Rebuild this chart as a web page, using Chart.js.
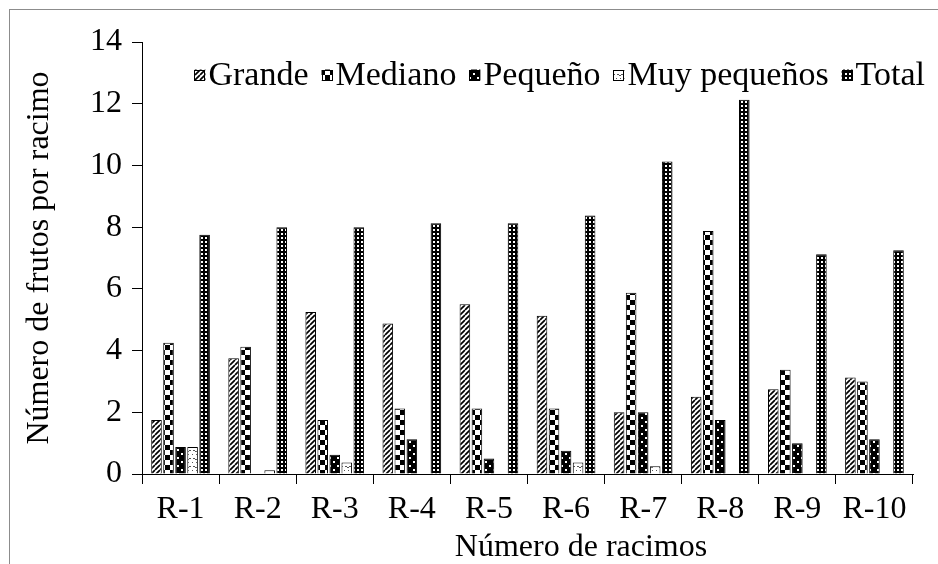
<!DOCTYPE html>
<html><head><meta charset="utf-8">
<script src="https://cdn.jsdelivr.net/npm/chart.js@4.4.1/dist/chart.umd.min.js"></script>
<style>
html,body{margin:0;padding:0;background:#fff;overflow:hidden;width:938px;height:564px}
#frame{position:absolute;left:9px;top:9px;width:1000px;height:1000px;border:1px solid #8c8c8c;box-sizing:border-box}
#c{position:absolute;left:0;top:0}
</style></head><body>
<div id="frame"></div>
<canvas id="c" width="938" height="564"></canvas>
<script>
const categories = ['R-1','R-2','R-3','R-4','R-5','R-6','R-7','R-8','R-9','R-10'];
const seriesNames = ['Grande','Mediano','Pequeño','Muy pequeños','Total'];
const grande      = [1.75, 3.75, 5.25, 4.875, 5.5, 5.125, 2.0, 2.5, 2.75, 3.125];
const mediano     = [4.25, 4.125, 1.75, 2.125, 2.125, 2.125, 5.875, 7.875, 3.375, 3.0];
const pequeno     = [0.875, 0, 0.625, 1.125, 0.5, 0.75, 2.0, 1.75, 1.0, 1.125];
const muyPequenos = [0.875, 0.125, 0.375, 0, 0, 0.375, 0.25, 0, 0, 0];
const total       = [7.75, 8.0, 8.0, 8.125, 8.125, 8.375, 10.125, 12.125, 7.125, 7.25];
const yMin = 0, yMax = 14, yStep = 2;
const xTitle = 'Número de racimos';
const yTitle = 'Número de frutos por racimo';

function makePattern(w, h, draw) {
  const c = document.createElement('canvas'); c.width = w; c.height = h;
  const x = c.getContext('2d'); draw(x, w, h);
  return x.createPattern(c, 'repeat');
}
const pGrande = makePattern(5, 5, (x, w, h) => {
  x.fillStyle = '#fff'; x.fillRect(0, 0, w, h);
  x.strokeStyle = '#000'; x.lineWidth = 1.7; x.beginPath();
  for (let k = -1; k <= 1; k++) { x.moveTo(k * w, h); x.lineTo(k * w + w, 0); }
  x.stroke();
});
const pMediano = makePattern(10, 10, (x, w, h) => {
  x.fillStyle = '#fff'; x.fillRect(0, 0, w, h);
  x.fillStyle = '#000'; x.fillRect(0, 0, 5, 5); x.fillRect(5, 5, 5, 5);
});
const pPequeno = makePattern(8, 8, (x, w, h) => {
  x.fillStyle = '#000'; x.fillRect(0, 0, w, h);
  x.fillStyle = '#fff'; x.fillRect(1, 1, 2, 2); x.fillRect(5, 5, 2, 2);
});
const pMuy = makePattern(8, 8, (x, w, h) => {
  x.fillStyle = '#fff'; x.fillRect(0, 0, w, h);
  x.fillStyle = '#555'; x.fillRect(1, 2, 2, 1); x.fillRect(3, 3, 2, 1); x.fillRect(5, 2, 2, 1);
  x.fillRect(0, 6, 1, 1); x.fillRect(4, 6, 1, 1);
});
const pTotal = makePattern(4, 4, (x, w, h) => {
  x.fillStyle = '#000'; x.fillRect(0, 0, w, h);
  x.fillStyle = '#fff'; x.fillRect(1, 1, 2, 2);
});
const fills = [pGrande, pMediano, pPequeno, pMuy, pTotal];
const seriesData = [grande, mediano, pequeno, muyPequenos, total];

const FONT = 'Liberation Serif';

const overlay = {
  id: 'overlay',
  afterDraw(chart) {
    const ctx = chart.ctx; ctx.save();
    ctx.font = '34px "' + FONT + '"'; ctx.textBaseline = 'middle';
    const ds = chart.data.datasets;
    const box = 11, gapText = 3, gapItem = 13, right = 925, yc = 75;
    const widths = ds.map(d => ctx.measureText(d.label).width);
    const totalW = widths.reduce((a, b) => a + b, 0) + ds.length * (box + gapText) + (ds.length - 1) * gapItem;
    let x = right - totalW;
    ds.forEach((d, i) => {
      ctx.fillStyle = d.backgroundColor; ctx.fillRect(x, yc - box / 2, box, box);
      ctx.strokeStyle = '#000'; ctx.lineWidth = 1;
      ctx.strokeRect(Math.round(x) + 0.5, Math.round(yc - box / 2) + 0.5, box - 1, box - 1);
      x += box + gapText;
      ctx.fillStyle = '#000'; ctx.textAlign = 'left';
      ctx.fillText(d.label, x, yc + 1);
      x += widths[i] + gapItem;
    });
    ctx.font = '32px "' + FONT + '"';
    ctx.textAlign = 'center'; ctx.fillStyle = '#000';
    ctx.fillText(xTitle, 581, 548);
    ctx.translate(40, (chart.chartArea.top + chart.chartArea.bottom) / 2);
    ctx.rotate(-Math.PI / 2);
    ctx.fillText(yTitle, 0, 0);
    ctx.restore();
  }
};

new Chart(document.getElementById('c'), {
  type: 'bar',
  data: {
    labels: categories,
    datasets: seriesNames.map((n, i) => ({
      label: n, data: seriesData[i], backgroundColor: fills[i],
      borderColor: '#000', borderWidth: 1,
      categoryPercentage: 0.78, barPercentage: 0.88
    }))
  },
  options: {
    responsive: false, animation: false, devicePixelRatio: 1,
    layout: { padding: { left: 0, right: 25, top: 42, bottom: 0 } },
    plugins: { legend: { display: false }, title: { display: false }, tooltip: { enabled: false } },
    scales: {
      x: {
        offset: true,
        grid: { display: true, drawOnChartArea: false, drawTicks: true, tickLength: 10, offset: true, color: '#000', lineWidth: 1 },
        border: { display: true, color: '#000', width: 1 },
        ticks: { font: { family: FONT, size: 32 }, color: '#000', padding: 6, maxRotation: 0, autoSkip: false },
        afterFit(s) { s.height = 90; }
      },
      y: {
        min: yMin, max: yMax,
        grid: { display: true, drawOnChartArea: false, drawTicks: true, tickLength: 10, color: '#000', lineWidth: 1 },
        border: { display: true, color: '#000', width: 1 },
        ticks: { stepSize: yStep, font: { family: FONT, size: 32 }, color: '#000', padding: 10 },
        afterFit(s) { s.width = 142; }
      }
    }
  },
  plugins: [overlay]
});
</script>
</body></html>
